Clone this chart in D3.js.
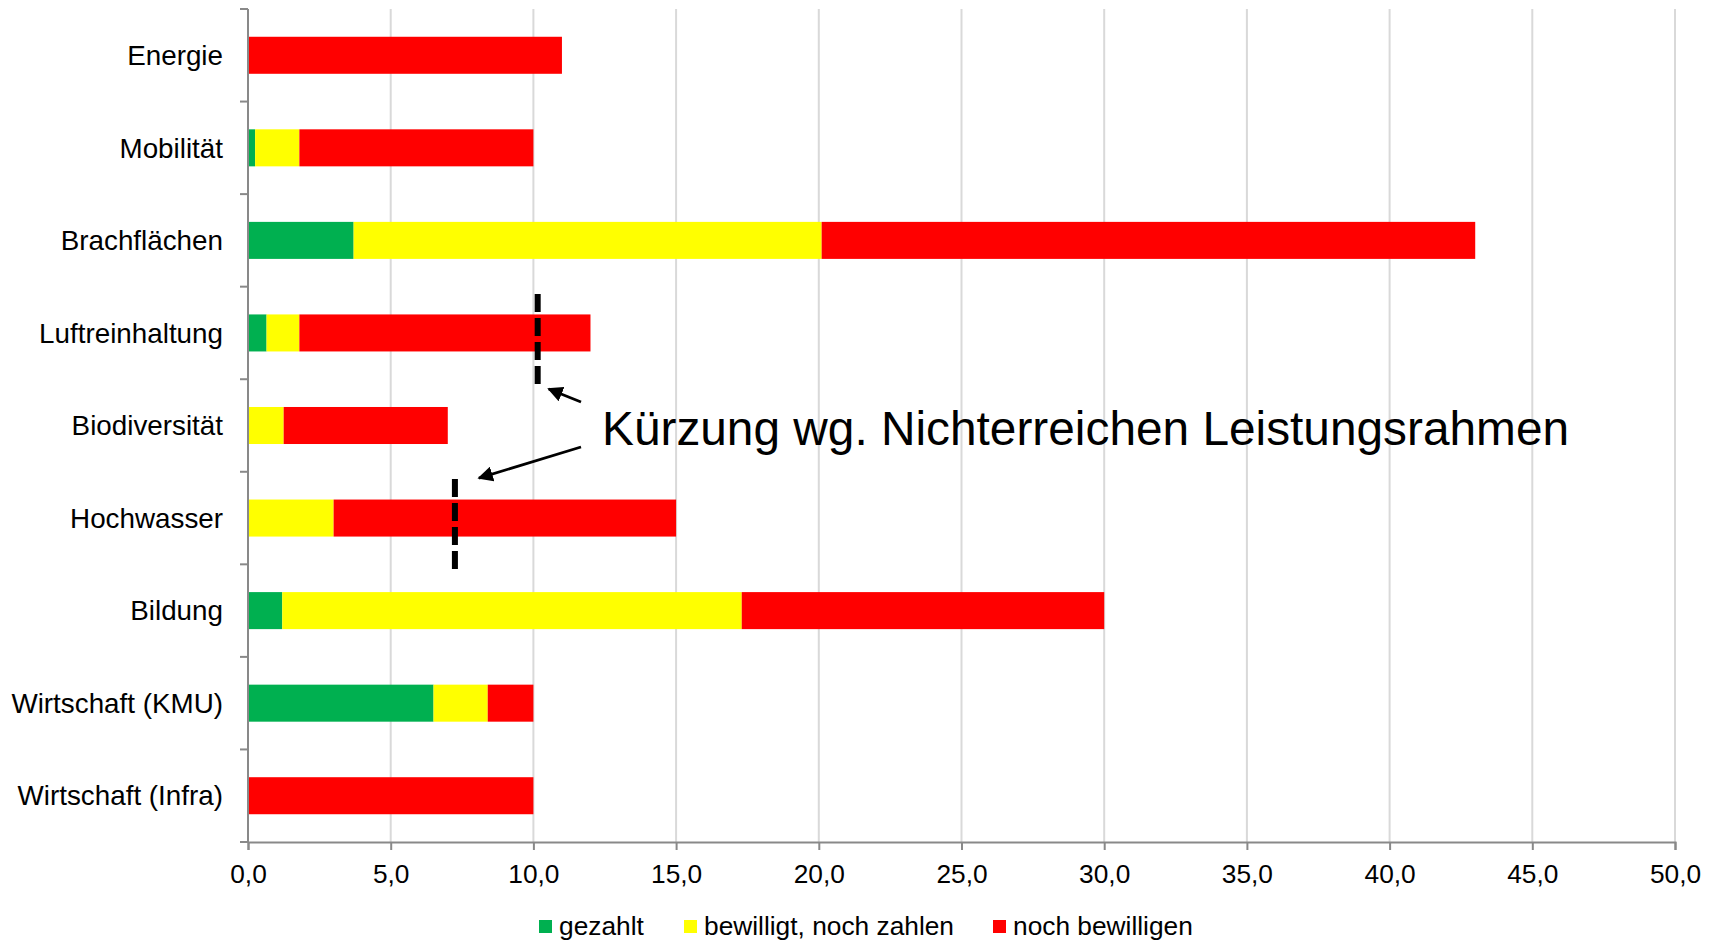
<!DOCTYPE html>
<html>
<head>
<meta charset="utf-8">
<script src="https://cdn.jsdelivr.net/npm/d3@7"></script>
<style>
  body { margin:0; background:#fff; }
  svg text { font-family:"Liberation Sans", Arial, sans-serif; fill:#000; }
</style>
</head>
<body>
<svg id="chart" width="1719" height="941"></svg>
<script>
// data
var categories = ['Energie','Mobilität','Brachflächen','Luftreinhaltung','Biodiversität',
                  'Hochwasser','Bildung','Wirtschaft (KMU)','Wirtschaft (Infra)'];
var gezahlt        = [0,    0.25, 3.7,  0.65, 0,    0,    1.2,  6.5, 0];
var bewilligt      = [0,    1.55, 16.4, 1.15, 1.25, 3.0,  16.1, 1.9, 0];
var nochBewilligen = [11.0, 8.2,  22.9, 10.2, 5.75, 12.0, 12.7, 1.6, 10.0];
var seriesNames  = ['gezahlt','bewilligt, noch zahlen','noch bewilligen'];
var seriesColors = ['#00b050','#ffff00','#ff0000'];
var xTicks = [0,5,10,15,20,25,30,35,40,45,50];
var cutCategories = ['Luftreinhaltung','Hochwasser'];
var cutValues     = [10.15, 7.25];
var note = 'Kürzung wg. Nichterreichen Leistungsrahmen';

var m = {left:248, right:44, top:9, bottom:99};
var W = 1719, H = 941;
var svg = d3.select('#chart');

var x = d3.scaleLinear().domain([0,50]).range([m.left, W-m.right]);
var y = d3.scaleBand().domain(categories).range([m.top, H-m.bottom]).paddingInner(0.6).paddingOuter(0.3);
var band = d3.scaleBand().domain(categories).range([m.top, H-m.bottom]);
var de = d3.formatLocale({decimal:',', thousands:'.', grouping:[3], currency:['','€']});

// grid
svg.append('g').selectAll('line').data(xTicks.slice(1)).enter()
  .append('line')
  .attr('x1',d=>x(d)).attr('x2',d=>x(d))
  .attr('y1',m.top).attr('y2',H-m.bottom)
  .attr('stroke','#d9d9d9').attr('stroke-width',2);

// stacked bars
var rows = categories.map((c,i)=>({cat:c, gezahlt:gezahlt[i], bewilligt:bewilligt[i], noch:nochBewilligen[i]}));
var stack = d3.stack().keys(['gezahlt','bewilligt','noch'])(rows);
svg.append('g').selectAll('g').data(stack).enter()
  .append('g').attr('fill',(d,i)=>seriesColors[i])
  .selectAll('rect').data(d=>d).enter()
  .append('rect')
  .attr('x',d=>x(d[0])).attr('width',d=>x(d[1])-x(d[0]))
  .attr('y',d=>y(d.data.cat)).attr('height',y.bandwidth());

// y axis
var ya = svg.append('g').attr('transform','translate('+m.left+',0)')
  .call(d3.axisLeft(y).tickSize(0).tickPadding(25));
ya.select('.domain').remove();
ya.selectAll('text').style('font-size','27.8px').attr('dy','0.35em');
var bounds = categories.map(c=>band(c)).concat([H-m.bottom]);
svg.append('g').selectAll('line').data(bounds).enter()
  .append('line').attr('x1',m.left-8).attr('x2',m.left)
  .attr('y1',d=>d).attr('y2',d=>d)
  .attr('stroke','#898989').attr('stroke-width',2);
svg.append('line').attr('x1',m.left).attr('x2',m.left)
  .attr('y1',m.top).attr('y2',H-m.bottom)
  .attr('stroke','#898989').attr('stroke-width',2);

// x axis
var xa = svg.append('g').attr('transform','translate(0,'+(H-m.bottom)+')')
  .call(d3.axisBottom(x).tickValues(xTicks).tickFormat(de.format('.1f')).tickSize(8).tickPadding(14));
xa.select('.domain').attr('stroke','#898989').attr('stroke-width',2);
xa.selectAll('.tick line').attr('stroke','#898989').attr('stroke-width',2);
xa.selectAll('text').style('font-size','26.3px');

// cut markers
svg.append('g').selectAll('line').data(cutCategories).enter()
  .append('line')
  .attr('x1',(d,i)=>x(cutValues[i])).attr('x2',(d,i)=>x(cutValues[i]))
  .attr('y1',d=>y(d)+y.bandwidth()/2-39).attr('y2',d=>y(d)+y.bandwidth()/2+51)
  .attr('stroke','#000').attr('stroke-width',6).attr('stroke-dasharray','18,6');

// annotation
svg.append('defs').append('marker').attr('id','arr')
  .attr('viewBox','0 0 10 10').attr('refX',9).attr('refY',5)
  .attr('markerWidth',5.5).attr('markerHeight',5.5).attr('orient','auto')
  .append('path').attr('d','M0,0L10,5L0,10z').attr('fill','#000');
var c0 = cutCategories[0], c1 = cutCategories[1];
var arrows = [
  {x1:581, y1:402, x2:x(cutValues[0])+11, y2:y(c0)+y.bandwidth()/2+56},
  {x1:581, y1:447, x2:x(cutValues[1])+24, y2:y(c1)+y.bandwidth()/2-40}
];
svg.append('g').selectAll('line').data(arrows).enter()
  .append('line')
  .attr('x1',d=>d.x1).attr('y1',d=>d.y1).attr('x2',d=>d.x2).attr('y2',d=>d.y2)
  .attr('stroke','#000').attr('stroke-width',2.8).attr('marker-end','url(#arr)');
svg.append('text').attr('x',602).attr('y',445).style('font-size','47.8px').text(note);

// legend
var lx = [539, 684, 993];
var leg = svg.append('g').selectAll('g').data(seriesNames).enter()
  .append('g').attr('transform',(d,i)=>'translate('+lx[i]+',926)');
leg.append('rect').attr('x',0).attr('y',-6).attr('width',13).attr('height',13)
  .attr('fill',(d,i)=>seriesColors[i]);
leg.append('text').attr('x',20).attr('y',9).style('font-size','26.3px').text(d=>d);
</script>
</body>
</html>
